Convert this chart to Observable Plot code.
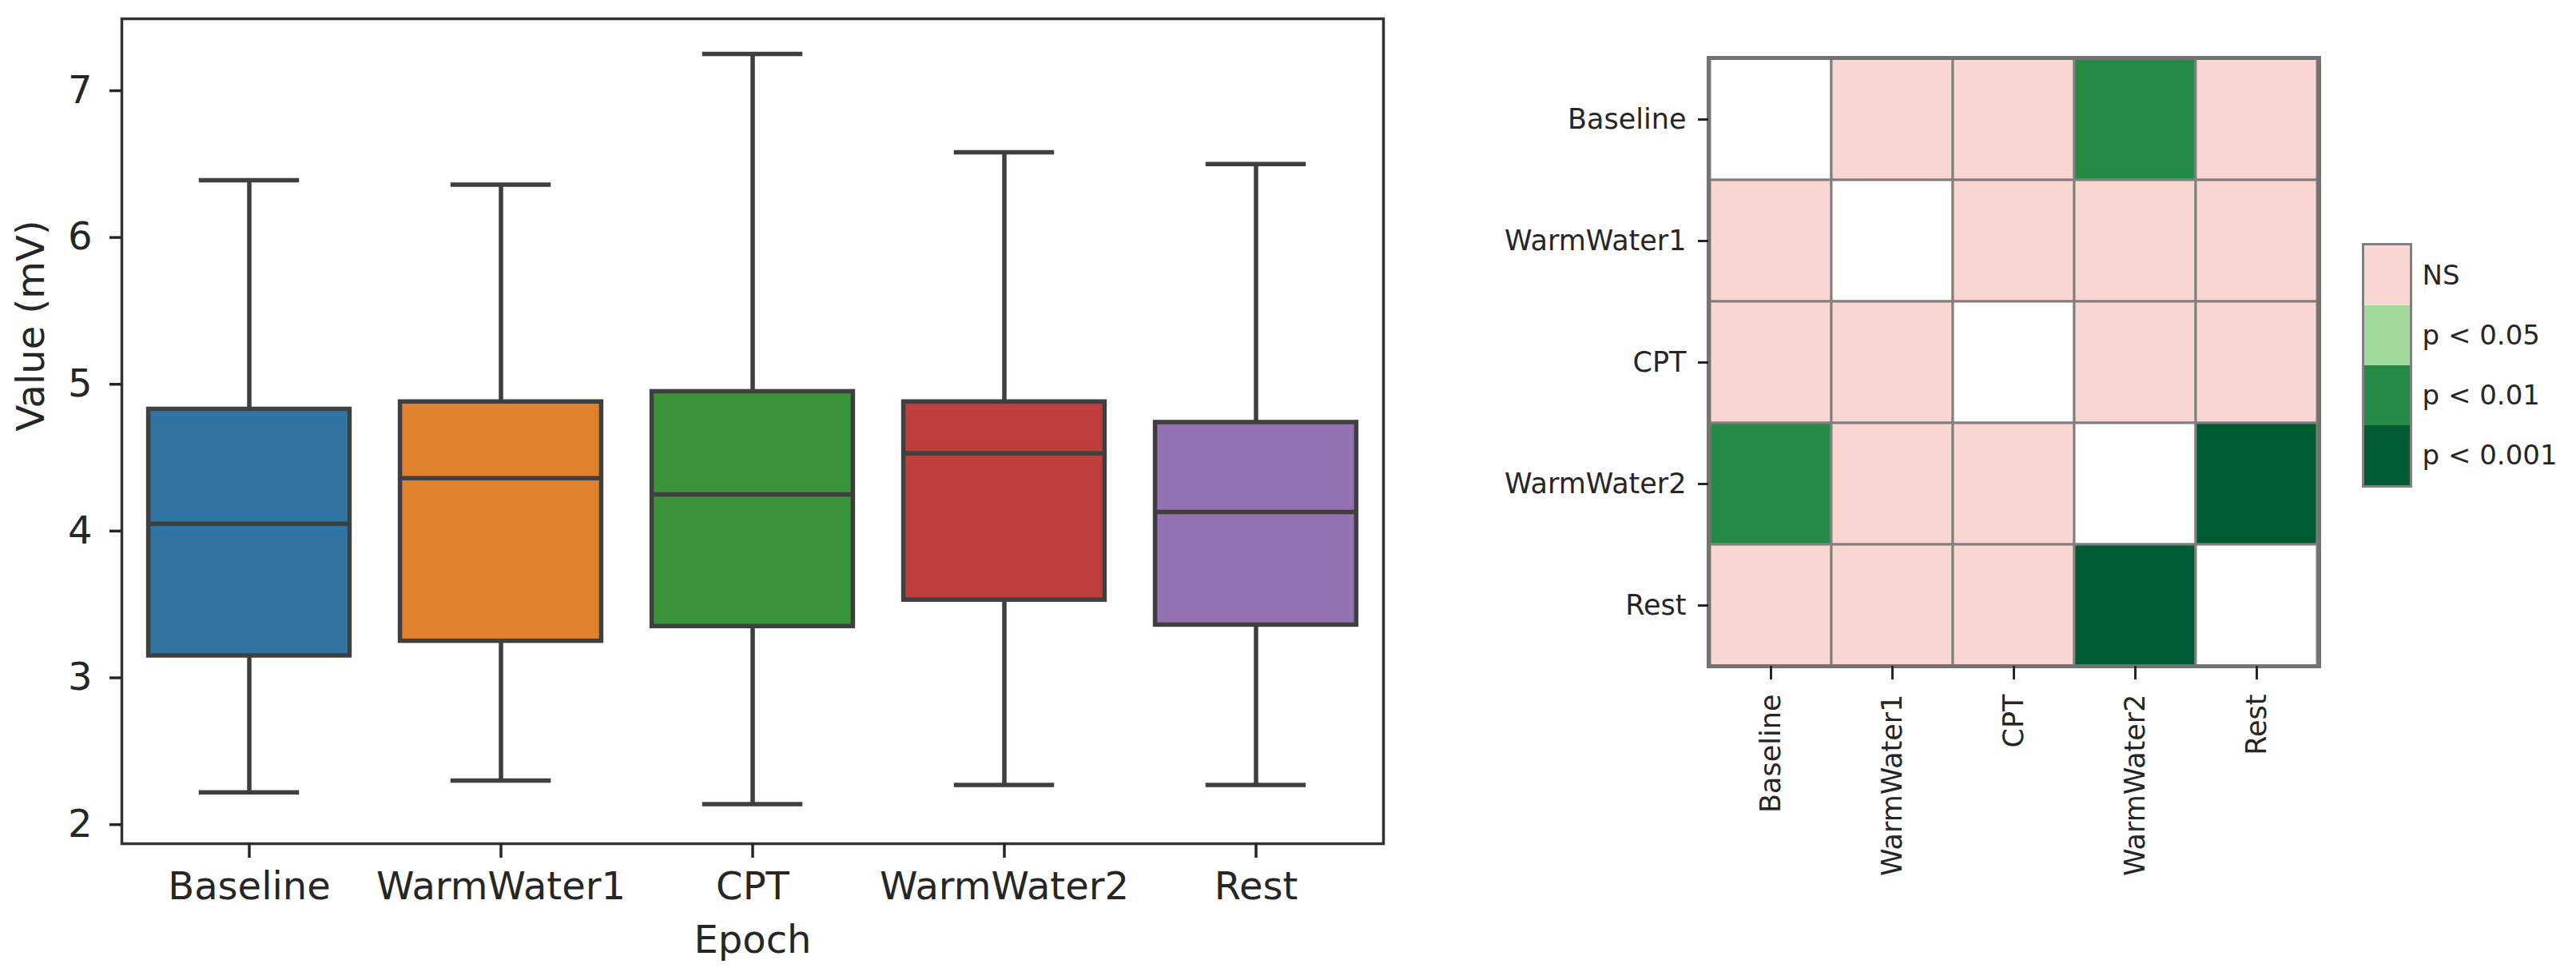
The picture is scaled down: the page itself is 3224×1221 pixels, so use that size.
<!DOCTYPE html>
<html>
<head>
<meta charset="utf-8">
<script src="https://cdn.jsdelivr.net/npm/d3@7"></script>
<script src="https://cdn.jsdelivr.net/npm/@observablehq/plot@0.6"></script>
<style>
html, body { margin: 0; padding: 0; background: #fff; }
#wrap { position: relative; width: 3224px; height: 1221px; overflow: hidden; background: #fff; }
#wrap > svg { position: absolute; overflow: visible; }
</style>
</head>
<body>
<div id="wrap"></div>
<script>
// ---- Data ----
const epochs = ["Baseline", "WarmWater1", "CPT", "WarmWater2", "Rest"];
const whiskerLow  = [2.22, 2.30, 2.14, 2.27, 2.27];
const quartile1   = [3.15, 3.25, 3.35, 3.53, 3.36];
const medians     = [4.05, 4.36, 4.25, 4.53, 4.13];
const quartile3   = [4.83, 4.88, 4.95, 4.88, 4.74];
const whiskerHigh = [6.39, 6.36, 7.25, 6.58, 6.50];
const boxColors   = ["#3274a1", "#e1812c", "#3a923a", "#c03d3e", "#9372b2"];
const yTicks = [2, 3, 4, 5, 6, 7];

const sigLevels = ["diag", "NS", "p < 0.05", "p < 0.01", "p < 0.001"];
const sigColors = ["#ffffff", "#fbd7d4", "#a1d99b", "#238b45", "#005a32"];
const legendLevels = ["NS", "p < 0.05", "p < 0.01", "p < 0.001"];
const sigMatrix = [
  ["diag", "NS", "NS", "p < 0.01", "NS"],
  ["NS", "diag", "NS", "NS", "NS"],
  ["NS", "NS", "diag", "NS", "NS"],
  ["p < 0.01", "NS", "NS", "diag", "p < 0.001"],
  ["NS", "NS", "NS", "p < 0.001", "diag"]
];

// ---- Derived tables ----
const boxes = epochs.map((e, i) => ({
  epoch: e, lo: whiskerLow[i], q1: quartile1[i], med: medians[i],
  q3: quartile3[i], hi: whiskerHigh[i], color: boxColors[i]
}));
const cells = epochs.flatMap((r, i) => epochs.map((c, j) => ({row: r, col: c, sig: sigMatrix[i][j]})));

const wrap = document.getElementById("wrap");
const edge = "#3f3f3f";
const ink = "#262626";
const font = "'DejaVu Sans', sans-serif";

// ---- Left: box plot ----
const W1 = 1800, H = 1221;
const mL = 152, mR = 69, mT = 23, mB = 166;
const band = (W1 - mL - mR) / epochs.length;

const left = Plot.plot({
  width: W1, height: H,
  marginLeft: mL, marginRight: mR, marginTop: mT, marginBottom: mB,
  style: {fontFamily: font, fontSize: "48px", color: ink, background: "transparent"},
  x: {type: "band", domain: epochs, padding: 0},
  y: {domain: [1.87, 7.49]},
  color: {type: "identity"},
  marks: [
    Plot.ruleX(boxes, {x: "epoch", y1: "q3", y2: "hi", stroke: edge, strokeWidth: 5.5}),
    Plot.ruleX(boxes, {x: "epoch", y1: "lo", y2: "q1", stroke: edge, strokeWidth: 5.5}),
    Plot.tickY(boxes, {x: "epoch", y: "hi", stroke: edge, strokeWidth: 5.5, insetLeft: band * 0.3, insetRight: band * 0.3}),
    Plot.tickY(boxes, {x: "epoch", y: "lo", stroke: edge, strokeWidth: 5.5, insetLeft: band * 0.3, insetRight: band * 0.3}),
    Plot.barY(boxes, {x: "epoch", y1: "q1", y2: "q3", fill: "color", stroke: edge, strokeWidth: 5.5, insetLeft: band * 0.1, insetRight: band * 0.1}),
    Plot.tickY(boxes, {x: "epoch", y: "med", stroke: edge, strokeWidth: 5.5, insetLeft: band * 0.1, insetRight: band * 0.1}),
    Plot.frame({stroke: "#333", strokeWidth: 3.5}),
    Plot.axisY({ticks: yTicks, tickFormat: d3.format("d"), tickSize: 15, tickPadding: 22, label: null, fontSize: 48, strokeWidth: 3.5}),
    Plot.axisX({tickSize: 18, tickPadding: 17, label: null, fontSize: 48, strokeWidth: 3.5}),
    Plot.text(["Epoch"], {frameAnchor: "bottom", lineAnchor: "middle", dy: 121, fontSize: 48, fill: ink}),
    Plot.text(["Value (mV)"], {frameAnchor: "left", lineAnchor: "middle", rotate: -90, dx: -113, fontSize: 48, fill: ink})
  ]
});
left.style.left = "0px";
left.style.top = "0px";
wrap.appendChild(left);

// ---- Right: significance heatmap ----
const W2 = 1424;
const right = Plot.plot({
  width: W2, height: H,
  marginLeft: 338, marginRight: 322, marginTop: 72, marginBottom: 388,
  style: {fontFamily: font, fontSize: "35px", color: ink, background: "transparent"},
  x: {type: "band", domain: epochs, padding: 0},
  y: {type: "band", domain: epochs, padding: 0},
  color: {type: "ordinal", domain: sigLevels, range: sigColors},
  marks: [
    Plot.cell(cells, {x: "col", y: "row", fill: "sig", stroke: "#808080", strokeWidth: 3}),
    Plot.frame({stroke: "#737373", strokeWidth: 5}),
    Plot.axisY({tickSize: 13, tickPadding: 15, label: null, fontSize: 35, strokeWidth: 3}),
    Plot.axisX({tickSize: 17, tickPadding: 18, tickRotate: -90, label: null, fontSize: 35, strokeWidth: 3})
  ]
});
right.style.left = "1800px";
right.style.top = "0px";
wrap.appendChild(right);

// ---- Legend (color bar) ----
const pad = 4;
const legend = Plot.plot({
  width: 267 + pad, height: 303 + 2 * pad,
  marginLeft: pad, marginRight: 207, marginTop: pad, marginBottom: pad,
  style: {fontFamily: font, fontSize: "34px", color: ink, background: "transparent"},
  y: {type: "band", domain: legendLevels, padding: 0, axis: null},
  color: {type: "ordinal", domain: sigLevels, range: sigColors},
  marks: [
    Plot.cell(legendLevels, {y: d => d, fill: d => d}),
    Plot.frame({stroke: "#808080", strokeWidth: 3}),
    Plot.text(legendLevels, {y: d => d, text: d => d, frameAnchor: "left", dx: 74, textAnchor: "start", fontSize: 34, fill: ink})
  ]
});
legend.style.left = (2957 - pad) + "px";
legend.style.top = (305 - pad) + "px";
wrap.appendChild(legend);
</script>
</body>
</html>
